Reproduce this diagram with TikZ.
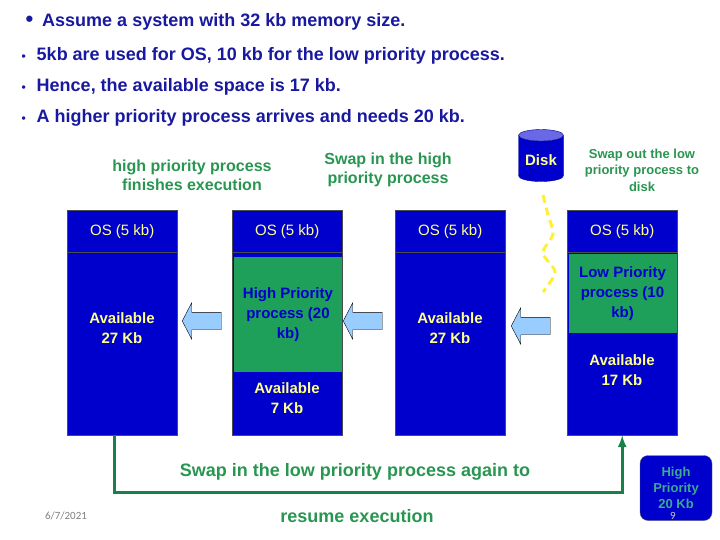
\documentclass[tikz,border=0pt]{standalone}
\usepackage{fontspec}
\setmainfont{Liberation Sans}
\newfontfamily\footfont{Carlito}
\usetikzlibrary{shapes.geometric,shapes.arrows}
\tikzset{>=latex}
\definecolor{MemBlue}{RGB}{0,0,204}
\definecolor{ProcGreen}{RGB}{30,160,90}
\definecolor{LabelGreen}{RGB}{40,150,80}
\definecolor{PaleYellow}{RGB}{255,255,140}
\definecolor{WaveYellow}{RGB}{255,240,50}
\definecolor{ArrowBlue}{RGB}{153,204,255}
\definecolor{Navy}{RGB}{25,25,160}
\definecolor{DiskTop}{RGB}{105,105,230}
\definecolor{Teal}{RGB}{60,170,140}
\tikzset{
  memcol/.style={draw=black!70, fill=MemBlue, minimum width=110pt, minimum height=225pt, anchor=north west, inner sep=0pt},
  ospart/.style={draw=black!70, fill=MemBlue, minimum width=110pt, minimum height=42pt, anchor=north, text=PaleYellow, font=\fontsize{15}{17}\selectfont},
  memtext/.style={text=PaleYellow, align=center, font=\fontsize{15}{20}\bfseries},
  procbox/.style={fill=ProcGreen, minimum width=108pt, anchor=north, text=MemBlue, align=center, font=\fontsize{15}{20}\bfseries},
  movearrow/.style={single arrow, shape border rotate=180, draw=black, fill=ArrowBlue, minimum width=36pt, minimum height=39pt, inner sep=8.5pt, single arrow head extend=9.5pt, single arrow tip angle=125},
  steplabel/.style={text=LabelGreen, align=center, font=\fontsize{16}{19}\bfseries},
  header/.style={text=Navy, anchor=west, font=\fontsize{18}{20}\bfseries},
}
\begin{document}
\begin{tikzpicture}[x=1pt,y=-1pt]
  \useasboundingbox (0,0) rectangle (720,540);
  % bullet points
  \node[header] (h1) at (22,22) {\fontsize{22}{22}\selectfont\textbullet\hspace{9pt}\fontsize{18}{20}\selectfont Assume a system with 32 kb memory size.};
  \node[header] (h2) at (18,56) {\fontsize{12}{12}\selectfont\textbullet\hspace{11pt}\fontsize{18}{20}\selectfont 5kb are used for OS, 10 kb for the low priority process.};
  \node[header] (h3) at (18,87) {\fontsize{12}{12}\selectfont\textbullet\hspace{11pt}\fontsize{18}{20}\selectfont Hence, the available space is 17 kb.};
  \node[header] (h4) at (18,118) {\fontsize{12}{12}\selectfont\textbullet\hspace{11pt}\fontsize{18}{20}\selectfont A higher priority process arrives and needs 20 kb.};

  % memory columns
  \node[memcol] (c1) at (67,210) {};
  \node[memcol] (c2) at (232,210) {};
  \node[memcol] (c3) at (395,210) {};
  \node[memcol] (c4) at (567,210) {};
  \node[ospart] (os1) at (c1.north) {OS (5 kb)};
  \node[ospart] (os2) at (c2.north) {OS (5 kb)};
  \node[ospart] (os3) at (c3.north) {OS (5 kb)};
  \node[ospart] (os4) at (c4.north) {OS (5 kb)};
  \node[procbox, minimum height=115pt] (hpp) at (288,257) {High Priority\\process (20\\kb)};
  \node[procbox, minimum height=79pt] (lpp) at (622.5,254) {Low Priority\\process (10\\kb)};
  \node[memtext] (av1) at (122,328) {Available\\27 Kb};
  \node[memtext] (av2) at (287,398) {Available\\7 Kb};
  \node[memtext] (av3) at (450,328) {Available\\27 Kb};
  \node[memtext] (av4) at (622,370) {Available\\17 Kb};

  % block arrows
  \node[movearrow] (a1) at (204,321) {};
  \node[movearrow] (a2) at (365,321) {};
  \node[movearrow] (a3) at (533,326) {};

  % disk
  \node[cylinder, shape border rotate=90, aspect=0.3, cylinder uses custom fill, cylinder body fill=MemBlue, cylinder end fill=DiskTop, draw=MemBlue!70!black, minimum width=45pt, minimum height=52pt, text=PaleYellow, font=\fontsize{15}{17}\selectfont\bfseries] (disk) at (541,160) {Disk};
  \coordinate (wavetop) at (543,195);
  \coordinate (wavebot) at (543,292);
  \draw[WaveYellow, line width=3pt, dash pattern=on 8pt off 5pt] plot[smooth] coordinates {(wavetop) (548,215) (553,234) (543,253) (555,272) (wavebot)};

  % step labels
  \node[steplabel] (l1) at (192,175) {high priority process\\finishes execution};
  \node[steplabel] (l2) at (388,170) {Swap in the high\\priority process};
  \node[steplabel, font=\fontsize{13}{16.5}\bfseries] (l3) at (642,170) {Swap out the low\\priority process to\\disk};

  % swap back
  \draw[->, ProcGreen!80!black, line width=3pt] ([xshift=-8pt]c1.south) -- ++(0,57) -| (c4.south);
  \node[steplabel, font=\fontsize{18}{20}\bfseries] (l4) at (355,472) {Swap in the low priority process again to};
  \node[steplabel, font=\fontsize{18}{20}\bfseries] (l5) at (357,516) {resume execution};

  \node[draw=black!60, fill=MemBlue, rounded corners=8pt, minimum width=72pt, minimum height=65pt, text=Teal, align=center, font=\fontsize{13}{16}\bfseries] (hpb) at (676,488) {High\\Priority\\20 Kb};

  % footer
  \node[text=gray, font=\footfont\fontsize{11}{13}\selectfont] (date) at (66,516) {6/7/2021};
  \node[text=gray!40, font=\footfont\fontsize{11}{13}\selectfont] (page) at (673,516) {9};
\end{tikzpicture}
\end{document}
